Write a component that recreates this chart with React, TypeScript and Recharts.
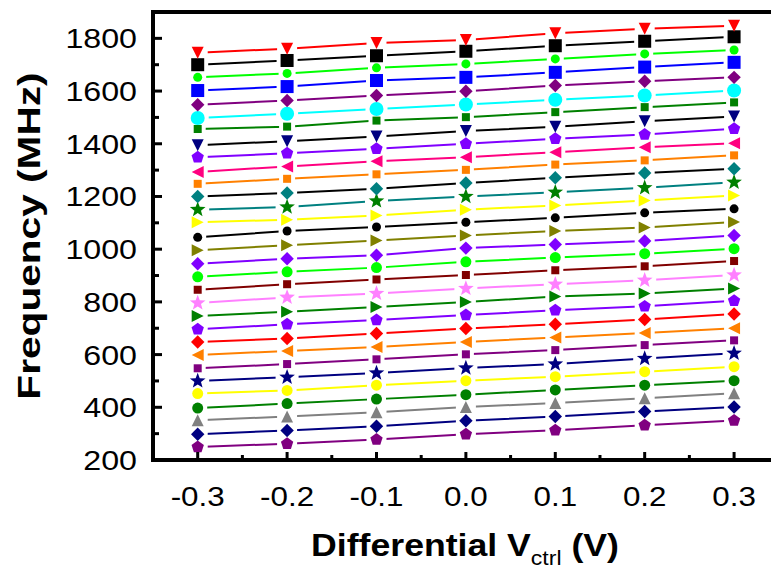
import React from 'react';
import { LineChart, Line, XAxis, YAxis, ReferenceLine } from 'recharts';

// control voltage steps (V)
const vctrl = [-0.3, -0.2, -0.1, 0, 0.1, 0.2, 0.3];
const xTicks = [-0.3, -0.25, -0.2, -0.15, -0.1, -0.05, 0, 0.05, 0.1, 0.15, 0.2, 0.25, 0.3];
const yTicks = [200, 300, 400, 500, 600, 700, 800, 900, 1000, 1100, 1200, 1300, 1400, 1500, 1600, 1700, 1800];

// oscillation frequency (MHz) for each coarse tuning code, bottom to top
const f250 = [249, 262, 278, 298, 313, 332, 350];
const f300 = [298, 312, 328, 349, 365, 384, 401];
const f350 = [351, 365, 381, 401, 416, 434, 453];
const f400 = [397, 414, 431, 448, 466, 484, 501];
const f450 = [452, 464, 484, 501, 516, 535, 554];
const f500 = [500, 514, 530, 549, 564, 585, 605];
const f550 = [548, 564, 582, 601, 617, 636, 654];
const f600 = [598, 614, 629, 648, 665, 682, 700];
const f650 = [648, 661, 680, 699, 715, 733, 754];
const f700 = [696, 715, 731, 750, 768, 783, 804];
const f750 = [746, 763, 781, 800, 820, 832, 851];
const f800 = [796, 817, 832, 851, 867, 882, 902];
const f850 = [846, 867, 885, 902, 920, 935, 955];
const f900 = [895, 914, 930, 952, 968, 983, 1002];
const f950 = [945, 964, 977, 1004, 1018, 1031, 1052];
const f1000 = [996, 1015, 1033, 1052, 1069, 1082, 1103];
const f1050 = [1045, 1069, 1084, 1102, 1119, 1138, 1153];
const f1100 = [1102, 1112, 1128, 1150, 1166, 1185, 1204];
const f1150 = [1150, 1160, 1183, 1200, 1216, 1233, 1254];
const f1200 = [1200, 1213, 1229, 1251, 1271, 1289, 1305];
const f1250 = [1248, 1267, 1284, 1301, 1321, 1337, 1356];
const f1300 = [1293, 1314, 1334, 1349, 1368, 1387, 1402];
const f1350 = [1349, 1364, 1381, 1400, 1419, 1435, 1457];
const f1400 = [1394, 1410, 1428, 1448, 1465, 1485, 1503];
const f1450 = [1456, 1465, 1488, 1501, 1520, 1539, 1557];
const f1500 = [1498, 1514, 1532, 1549, 1567, 1583, 1602];
const f1550 = [1548, 1564, 1583, 1599, 1621, 1637, 1652];
const f1600 = [1602, 1617, 1640, 1652, 1671, 1691, 1709];
const f1650 = [1652, 1667, 1688, 1703, 1722, 1741, 1756];
const f1700 = [1700, 1716, 1734, 1751, 1772, 1789, 1806];
const f1750 = [1745, 1761, 1782, 1794, 1819, 1836, 1848];

const curves = [
  f250, f300, f350, f400, f450, f500, f550, f600, f650, f700, f750,
  f800, f850, f900, f950, f1000, f1050, f1100, f1150, f1200, f1250,
  f1300, f1350, f1400, f1450, f1500, f1550, f1600, f1650, f1700, f1750,
];

type Shape = 'square' | 'circle' | 'diamond' | 'triUp' | 'triDown' | 'triLeft' | 'triRight' | 'pentagon' | 'star';

// symbol, symbol colour, symbol size and line colour per curve (same order as curves)
const styles: { shape: Shape; fill: string; size: number; line: string }[] = [
  { shape: 'pentagon', fill: '#800080', size: 12, line: '#800080' },
  { shape: 'diamond', fill: '#000080', size: 12, line: '#000080' },
  { shape: 'triUp', fill: '#808080', size: 12, line: '#808080' },
  { shape: 'circle', fill: '#008000', size: 11, line: '#008000' },
  { shape: 'circle', fill: '#FFFF00', size: 11, line: '#FFFF00' },
  { shape: 'star', fill: '#000080', size: 15, line: '#000080' },
  { shape: 'square', fill: '#800080', size: 8, line: '#800080' },
  { shape: 'triLeft', fill: '#FF8000', size: 12, line: '#FF8000' },
  { shape: 'diamond', fill: '#FF0000', size: 12, line: '#FF0000' },
  { shape: 'pentagon', fill: '#8000FF', size: 12, line: '#8000FF' },
  { shape: 'triRight', fill: '#008000', size: 12, line: '#008000' },
  { shape: 'star', fill: '#FF80FF', size: 15, line: '#FF80FF' },
  { shape: 'square', fill: '#800000', size: 8, line: '#800000' },
  { shape: 'circle', fill: '#00FF00', size: 11, line: '#00FF00' },
  { shape: 'diamond', fill: '#8000FF', size: 12, line: '#8000FF' },
  { shape: 'triRight', fill: '#808000', size: 12, line: '#808000' },
  { shape: 'circle', fill: '#000000', size: 9, line: '#000000' },
  { shape: 'triRight', fill: '#FFFF00', size: 12, line: '#FFFF00' },
  { shape: 'star', fill: '#008000', size: 15, line: '#008080' },
  { shape: 'diamond', fill: '#008080', size: 12, line: '#000000' },
  { shape: 'square', fill: '#FF8000', size: 8, line: '#FF8000' },
  { shape: 'triLeft', fill: '#FF0080', size: 12, line: '#FF0080' },
  { shape: 'pentagon', fill: '#8000FF', size: 12, line: '#8000FF' },
  { shape: 'triDown', fill: '#000080', size: 12, line: '#000000' },
  { shape: 'square', fill: '#008000', size: 8, line: '#008000' },
  { shape: 'circle', fill: '#00FFFF', size: 14, line: '#00FFFF' },
  { shape: 'diamond', fill: '#800080', size: 12, line: '#800080' },
  { shape: 'square', fill: '#0000FF', size: 13, line: '#0000FF' },
  { shape: 'circle', fill: '#00FF00', size: 9, line: '#00FF00' },
  { shape: 'square', fill: '#000000', size: 13, line: '#000000' },
  { shape: 'triDown', fill: '#FF0000', size: 12, line: '#FF0000' },
];

const data = vctrl.map((v, i) => {
  const row: Record<string, number> = { v };
  curves.forEach((c, k) => { row['c' + k] = c[i]; });
  return row;
});

const FONT = '"Liberation Sans", Arial, sans-serif';
const W = 771;
const H = 574;
const AXIS_LEFT = 153; // y-axis width
const AXIS_HEIGHT = 114; // x-axis band below the plot
const PLOT_BOTTOM = H - AXIS_HEIGHT;

const regular = (cx: number, cy: number, r: number, n: number, rot: number) =>
  Array.from({ length: n }, (_, i) => {
    const a = rot + (i * 2 * Math.PI) / n;
    return `${cx + r * Math.cos(a)},${cy + r * Math.sin(a)}`;
  }).join(' ');

const starPoints = (cx: number, cy: number, R: number) =>
  Array.from({ length: 10 }, (_, i) => {
    const a = -Math.PI / 2 + (i * Math.PI) / 5;
    const r = i % 2 === 0 ? R : R * 0.42;
    return `${cx + r * Math.cos(a)},${cy + r * Math.sin(a)}`;
  }).join(' ');

function symbol(shape: Shape, cx: number, cy: number, s: number, fill: string, key: string) {
  const h = s / 2;
  switch (shape) {
    case 'square':
      return <rect key={key} x={cx - h} y={cy - h} width={s} height={s} fill={fill} />;
    case 'circle':
      return <circle key={key} cx={cx} cy={cy} r={h} fill={fill} />;
    case 'diamond':
      return <polygon key={key} points={regular(cx, cy, h * 1.12, 4, -Math.PI / 2)} fill={fill} />;
    case 'triUp':
      return <polygon key={key} points={`${cx},${cy - h} ${cx + h},${cy + h} ${cx - h},${cy + h}`} fill={fill} />;
    case 'triDown':
      return <polygon key={key} points={`${cx - h},${cy - h} ${cx + h},${cy - h} ${cx},${cy + h}`} fill={fill} />;
    case 'triLeft':
      return <polygon key={key} points={`${cx - h},${cy} ${cx + h},${cy - h} ${cx + h},${cy + h}`} fill={fill} />;
    case 'triRight':
      return <polygon key={key} points={`${cx - h},${cy - h} ${cx + h},${cy} ${cx - h},${cy + h}`} fill={fill} />;
    case 'pentagon':
      return <polygon key={key} points={regular(cx, cy, h * 1.08, 5, -Math.PI / 2)} fill={fill} />;
    case 'star':
      return <polygon key={key} points={starPoints(cx, cy, h * 1.1)} fill={fill} />;
  }
}

// ticks point into the plot from the axis lines
const XTick = (props: any) => {
  const { x, payload } = props;
  const v = payload.value as number;
  const major = Math.round(v * 100) % 10 === 0;
  const y = PLOT_BOTTOM;
  return (
    <g>
      <line x1={x} x2={x} y1={y} y2={y - (major ? 8 : 5)} stroke="#000" strokeWidth={3} />
      {major && (
        <text x={0} y={0} transform={`translate(${x},${y + 46}) scale(1.12,1)`} textAnchor="middle"
          fontFamily={FONT} fontSize={28} fill="#000">
          {v.toFixed(1)}
        </text>
      )}
    </g>
  );
};

const YTick = (props: any) => {
  const { y, payload } = props;
  const v = payload.value as number;
  const major = v % 200 === 0;
  const x = AXIS_LEFT;
  return (
    <g>
      <line x1={x} x2={x + (major ? 9 : 6)} y1={y} y2={y} stroke="#000" strokeWidth={3} />
      {major && (
        <text x={0} y={0} transform={`translate(${x - 16},${y + 10}) scale(1.15,1)`} textAnchor="end"
          fontFamily={FONT} fontSize={28} fill="#000">
          {v}
        </text>
      )}
    </g>
  );
};

const XTitle = () => (
  <text x={0} y={0} transform="translate(465,556) scale(1.15,1)" textAnchor="middle"
    fontFamily={FONT} fontSize={31} fontWeight="bold" fill="#000">
    Differential V
    <tspan fontSize={20} fontWeight="normal" dy={9}>ctrl</tspan>
    <tspan dy={-9}> (V)</tspan>
  </text>
);

const YTitle = () => (
  <text x={0} y={0} transform="translate(40,236) rotate(-90) scale(1.27,1)" textAnchor="middle"
    fontFamily={FONT} fontSize={32} fontWeight="bold" fill="#000">
    Frequency (MHz)
  </text>
);

const axisStroke = { stroke: '#000', strokeWidth: 4, strokeLinecap: 'square' as const };

export default function App() {
  return (
    <div style={{ position: 'absolute', left: 0, top: 0, width: W, height: H, background: '#fff', overflow: 'hidden' }}>
      <LineChart width={W} height={H} data={data} margin={{ top: 12, right: 0, left: 0, bottom: 0 }}>
        <XAxis dataKey="v" type="number" domain={[-0.35, 0.3413]} allowDataOverflow ticks={xTicks} interval={0}
          height={AXIS_HEIGHT} tickLine={false} axisLine={axisStroke}
          tick={<XTick />} label={<XTitle />} />
        <YAxis type="number" domain={[200, 1900]} allowDataOverflow ticks={yTicks} interval={0}
          width={AXIS_LEFT} tickLine={false} axisLine={axisStroke}
          tick={<YTick />} label={<YTitle />} />
        <ReferenceLine y={1900} stroke="#000" strokeWidth={4} />

        {curves.map((_, k) => (
          <Line key={'l' + k} dataKey={'c' + k} stroke={styles[k].line} strokeWidth={2}
            dot={false} activeDot={false} isAnimationActive={false} />
        ))}

        {/* white breaks in each line around the symbols */}
        {curves.map((_, k) => (
          <Line key={'g' + k} dataKey={'c' + k} stroke="none" activeDot={false} isAnimationActive={false}
            dot={(p: any) => (
              <rect key={`g${k}-${p.index}`} x={p.cx - styles[k].size / 2 - 4} y={p.cy - 3}
                width={styles[k].size + 8} height={6} fill="#fff" />
            )} />
        ))}

        {curves.map((_, k) => (
          <Line key={'m' + k} dataKey={'c' + k} stroke="none" activeDot={false} isAnimationActive={false}
            dot={(p: any) => symbol(styles[k].shape, p.cx, p.cy, styles[k].size, styles[k].fill, `m${k}-${p.index}`)} />
        ))}
      </LineChart>
    </div>
  );
}
